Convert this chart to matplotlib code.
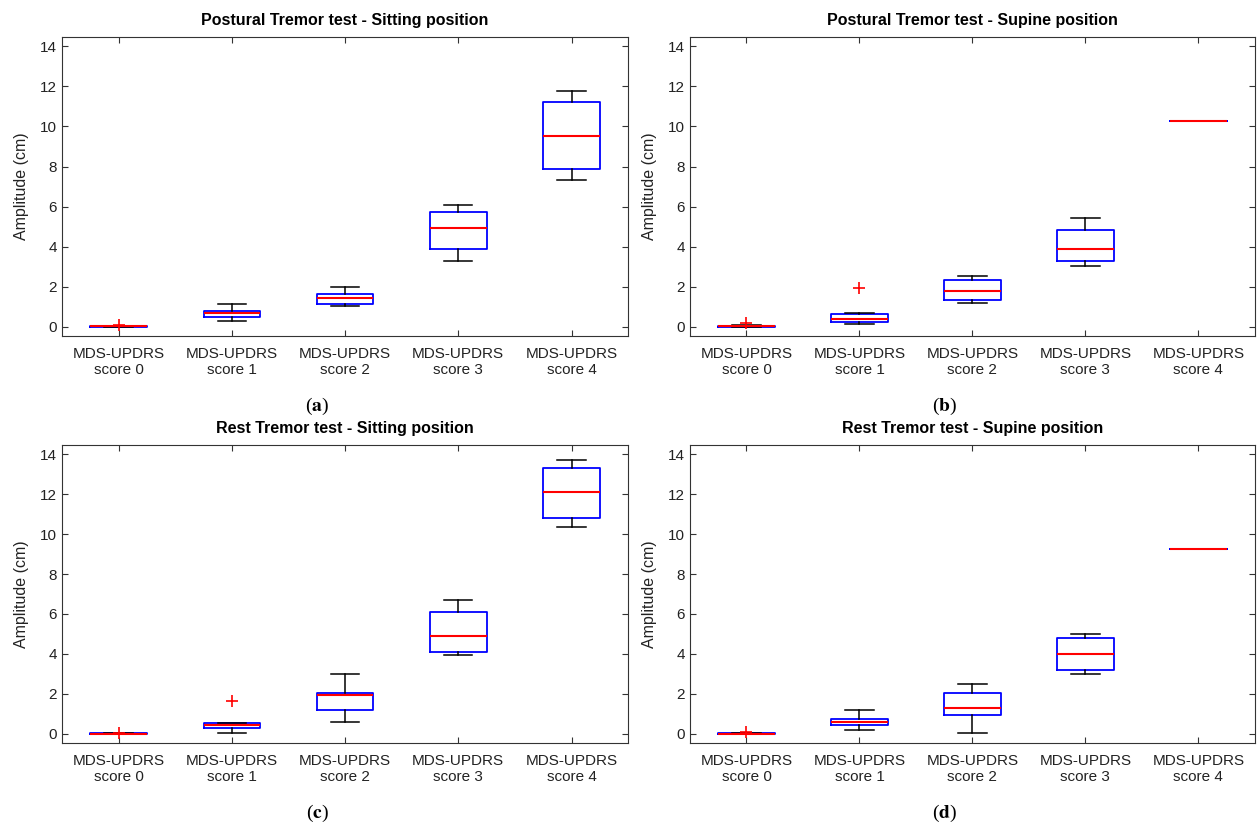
import matplotlib
matplotlib.use('Agg')
import matplotlib.pyplot as plt

plt.rcParams['font.family'] = ['Liberation Sans', 'DejaVu Sans']
plt.rcParams['mathtext.fontset'] = 'stix'

titles = ['Postural Tremor test - Sitting position',
          'Postural Tremor test - Supine position',
          'Rest Tremor test - Sitting position',
          'Rest Tremor test - Supine position']
panel_tags = ['a', 'b', 'c', 'd']
categories = ['MDS-UPDRS\nscore 0', 'MDS-UPDRS\nscore 1', 'MDS-UPDRS\nscore 2',
              'MDS-UPDRS\nscore 3', 'MDS-UPDRS\nscore 4']

# box statistics, one row per panel (a, b, c, d)
medians = [[0.02, 0.70, 1.43, 4.93, 9.53],
           [0.01, 0.40, 1.78, 3.88, 10.27],
           [0.00, 0.42, 1.94, 4.92, 12.13],
           [0.00, 0.60, 1.28, 4.00, 9.24]]
q1 = [[0.00, 0.47, 1.13, 3.88, 7.90],
      [0.00, 0.22, 1.32, 3.30, 10.27],
      [0.00, 0.28, 1.21, 4.10, 10.81],
      [0.00, 0.43, 0.91, 3.19, 9.24]]
q3 = [[0.04, 0.78, 1.63, 5.72, 11.23],
      [0.03, 0.62, 2.32, 4.82, 10.27],
      [0.01, 0.51, 2.06, 6.11, 13.30],
      [0.01, 0.75, 2.03, 4.80, 9.24]]
whisk_lo = [[0.00, 0.27, 1.02, 3.28, 7.33],
            [0.00, 0.12, 1.18, 3.05, 10.27],
            [0.00, 0.02, 0.58, 3.92, 10.37],
            [0.00, 0.20, 0.05, 2.99, 9.24]]
whisk_hi = [[0.05, 1.13, 2.00, 6.08, 11.77],
            [0.07, 0.68, 2.52, 5.42, 10.27],
            [0.01, 0.51, 3.00, 6.71, 13.72],
            [0.03, 1.20, 2.51, 5.00, 9.24]]
outliers = [[[0.08], [], [], [], []],
            [[0.20], [1.92], [], [], []],
            [[0.05], [1.63], [], [], []],
            [[0.08], [], [], [], []]]

fig = plt.figure(figsize=(12.58, 8.23), dpi=100)

# axes rectangles in figure fractions: left, bottom, width, height
rects = [[0.0493, 0.5917, 0.4500, 0.3633],
         [0.5485, 0.5917, 0.4490, 0.3633],
         [0.0493, 0.0972, 0.4500, 0.3620],
         [0.5485, 0.0972, 0.4490, 0.3620]]

for i in range(4):
    ax = fig.add_axes(rects[i])
    stats = []
    for j in range(5):
        stats.append({'med': medians[i][j], 'q1': q1[i][j], 'q3': q3[i][j],
                      'whislo': whisk_lo[i][j], 'whishi': whisk_hi[i][j],
                      'fliers': outliers[i][j]})
    ax.bxp(stats, positions=range(1, 6), widths=0.5,
           boxprops=dict(color='#0000ff', linewidth=1.3),
           medianprops=dict(color='#ff0000', linewidth=1.5),
           whiskerprops=dict(color='black', linewidth=1.1),
           capprops=dict(color='black', linewidth=1.1),
           capwidths=0.25,
           flierprops=dict(marker='+', markeredgecolor='#ff0000',
                           markersize=9, markeredgewidth=1.2))
    ax.set_xlim(0.5, 5.5)
    ax.set_ylim(-0.47, 14.47)
    ax.set_yticks(range(0, 15, 2))
    ax.set_xticks(range(1, 6))
    ax.set_xticklabels(categories, fontsize=11, linespacing=1.15)
    ax.tick_params(axis='y', labelsize=11)
    ax.tick_params(axis='x', pad=8)
    ax.tick_params(direction='in', top=True, right=True, length=4,
                   color='#333333', labelcolor='#222222')
    for sp in ax.spines.values():
        sp.set_color('#333333')
    ax.set_ylabel('Amplitude (cm)', fontsize=11.5, color='#222222', labelpad=8)
    ax.set_title(titles[i], fontsize=11.5, fontweight='bold', pad=9)
    x_tag = rects[i][0] + rects[i][2] / 2 - 0.022
    y_tag = rects[i][1] - 0.085
    fig.text(x_tag, y_tag, '(' + r'$\mathbf{' + panel_tags[i] + '}$' + ')',
             fontsize=14, family='Liberation Serif', ha='center', va='center')

fig.savefig('out.png', dpi=100)
